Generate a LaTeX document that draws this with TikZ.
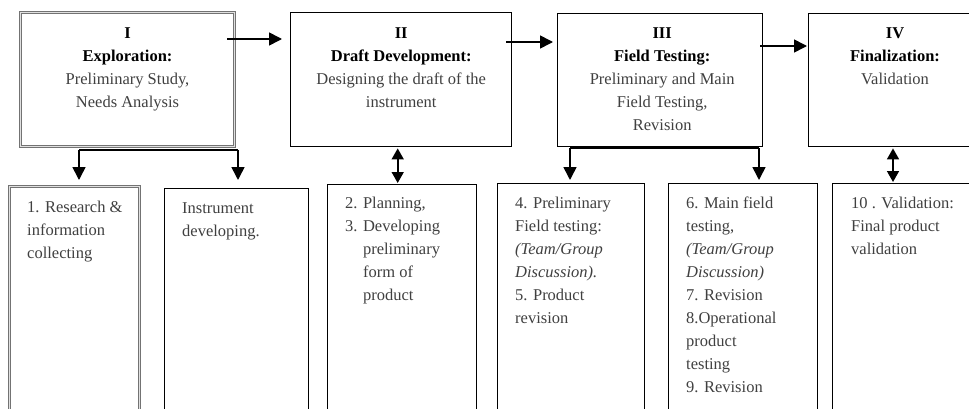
\documentclass[tikz,border=0pt]{standalone}
\usepackage{fontspec}
\setmainfont{Liberation Serif}
\usetikzlibrary{arrows.meta,calc}
\newcommand\mybf[1]{\textbf{\color{black}#1}}
\begin{document}
\begin{tikzpicture}[x=1pt,y=-1pt,
  blk/.style={draw=black, line width=1.4pt, inner sep=0pt, anchor=north west},
  grybox/.style={draw=black!55, double=black!12, double distance=1pt, line width=1pt, inner sep=0pt, anchor=north west},
  ln/.style={line width=1.6pt},
  arr/.style={line width=1.6pt, -{Triangle[width=13pt,length=13pt]}},
  darr/.style={line width=1.6pt, {Triangle[width=12pt,length=11pt]}-{Triangle[width=12pt,length=11pt]}},
  ttl/.style={anchor=north, align=center, inner sep=0pt, font=\fontsize{16.5}{23}\selectfont, text=black!75},
  itm/.style={anchor=north west, align=left, inner sep=0pt, font=\fontsize{16.5}{23}\selectfont, text=black!75}
]
\useasboundingbox (0,0) rectangle (969,409);
\fill[white] (0,0) rectangle (969,409);
\clip (0,0) rectangle (969,409);

% top boxes
\node[grybox, minimum width=214pt, minimum height=134pt] (BI) at (20,12) {};
\node[blk, minimum width=221pt, minimum height=134pt] (B2) at (290,12) {};
\node[blk, minimum width=205pt, minimum height=133pt] (B3) at (557,13) {};
\node[blk, minimum width=200pt, minimum height=133pt] (B4) at (808,13) {};

% bottom boxes
\node[grybox, minimum width=130pt, minimum height=250pt] (b1) at (9,186) {};
\node[blk, minimum width=144pt, minimum height=250pt] (bi) at (164,188) {};
\node[blk, minimum width=149pt, minimum height=250pt] (b2) at (327,184) {};
\node[blk, minimum width=147pt, minimum height=250pt] (b4) at (497,183) {};
\node[blk, minimum width=149pt, minimum height=250pt] (b6) at (668,183) {};
\node[blk, minimum width=200pt, minimum height=250pt] (b10) at (832,183) {};

% titles
\node[ttl] (tI) at ($(BI.north)+(0,15)$) {\mybf{I}\\\mybf{Exploration:}\\Preliminary Study,\\Needs Analysis};
\node[ttl] (tII) at ($(B2.north)+(0,15)$) {\mybf{II}\\\mybf{Draft Development:}\\Designing the draft of the\\instrument};
\node[ttl] (tIII) at ($(B3.north)+(2,14)$) {\mybf{III}\\\mybf{Field Testing:}\\Preliminary and Main\\Field Testing,\\Revision};
\node[ttl] (tIV) at ($(B4.north west)+(87,14)$) {\mybf{IV}\\\mybf{Finalization:}\\Validation};

% item texts
\node[itm] (t1) at ($(b1.north west)+(18,15)$) {1. Research \&\\information\\collecting};
\node[itm] (ti) at ($(bi.north west)+(18,14)$) {Instrument\\developing.};
\node[itm] (t2) at ($(b2.north west)+(18,13)$) {2. Planning,\\3. Developing\\\hphantom{3. }preliminary\\\hphantom{3. }form of\\\hphantom{3. }product};
\node[itm] (t4) at ($(b4.north west)+(18,14)$) {4. Preliminary\\Field testing:\\\textit{(Team/Group}\\\textit{Discussion).}\\5. Product\\revision};
\node[itm] (t6) at ($(b6.north west)+(18,14)$) {6. Main field\\testing,\\\textit{(Team/Group}\\\textit{Discussion)}\\7. Revision\\8.Operational\\product\\testing\\9. Revision};
\node[itm] (t10) at ($(b10.north west)+(19,14)$) {10 . Validation:\\Final product\\validation};

% horizontal arrows
\draw[arr] ($(BI.north east)+(-8,27)$) -- ($(B2.north west)+(-8,27)$);
\draw[arr] ($(B2.north east)+(-6,30)$) coordinate (s2) -- ([xshift=-4pt]B3.west |- s2);
\draw[arr] ($(B3.north east)+(-3,33)$) coordinate (s3) -- ([xshift=-1pt]B4.west |- s3);

% branches from I
\coordinate (j1) at (79,150);
\coordinate (j2) at (238,150);
\draw[ln] (j1) -- (j2);
\draw[arr] (j1) -- ([yshift=6pt]b1.north -| j1);
\draw[arr] (j2) -- ([yshift=8pt]bi.north -| j2);

% branches from III
\coordinate (j3) at (570,148);
\coordinate (j4) at (759,148);
\draw[ln] (j3) -- (j4);
\draw[arr] (j3) -- ([yshift=3pt]b4.north -| j3);
\draw[arr] (j4) -- ([yshift=3pt]b6.north -| j4);

% double arrows
\coordinate (d2) at ([xshift=-3.5pt,yshift=-1pt]B2.south);
\draw[darr] (d2) -- ([yshift=1pt]b2.north -| d2);
\draw[darr] ([xshift=85pt,yshift=-1pt]B4.south west) -- ([xshift=61pt,yshift=1pt]b10.north west);
\end{tikzpicture}
\end{document}
